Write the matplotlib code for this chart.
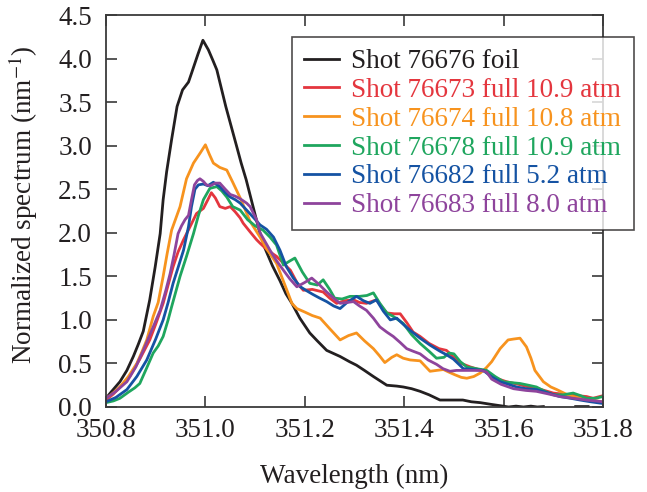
import numpy as np
import matplotlib
matplotlib.use("Agg")
import matplotlib.pyplot as plt

plt.rcParams['font.family'] = ['Liberation Serif', 'DejaVu Serif']
plt.rcParams['mathtext.fontset'] = 'stix'

# ---- data ----
foil_x = [350.80, 350.81, 350.828, 350.842, 350.855, 350.865, 350.875, 350.888, 350.899, 350.909,
          350.915, 350.922, 350.932, 350.943, 350.954, 350.966, 350.972, 350.985, 350.995, 351.006,
          351.015, 351.023, 351.032, 351.041, 351.052, 351.063, 351.072, 351.082, 351.095, 351.108,
          351.12, 351.135, 351.15, 351.162, 351.174, 351.19, 351.21, 351.225, 351.244, 351.271,
          351.29, 351.304, 351.32, 351.338, 351.365, 351.385, 351.398, 351.415, 351.432, 351.45,
          351.472, 351.50, 351.518, 351.535, 351.553, 351.575, 351.599, 351.61, 351.625, 351.64,
          351.655, 351.668, 351.68, 351.70, 351.745, 351.77]
foil_y = [0.10, 0.17, 0.29, 0.42, 0.58, 0.72, 0.87, 1.23, 1.61, 1.99,
          2.38, 2.70, 3.07, 3.45, 3.64, 3.73, 3.83, 4.05, 4.21, 4.10,
          3.98, 3.87, 3.66, 3.45, 3.22, 2.99, 2.80, 2.61, 2.32, 2.03,
          1.82, 1.62, 1.45, 1.30, 1.19, 1.02, 0.85, 0.76, 0.65, 0.58,
          0.52, 0.48, 0.42, 0.35, 0.25, 0.24, 0.23, 0.21, 0.18, 0.14,
          0.08, 0.08, 0.08, 0.06, 0.05, 0.03, 0.01, 0.0, 0.01, 0.0,
          0.01, 0.0, 0.005, np.nan, 0.005, 0.005]

s73_x = [350.80, 350.815, 350.83, 350.848, 350.868, 350.888, 350.90, 350.915, 350.925, 350.935,
         350.945, 350.956, 350.97, 350.982, 350.996, 351.005, 351.012, 351.02, 351.029, 351.04,
         351.05, 351.06, 351.07, 351.076, 351.09, 351.103, 351.11, 351.125, 351.143, 351.15,
         351.171, 351.185, 351.197, 351.215, 351.237, 351.25, 351.264, 351.28, 351.298, 351.31,
         351.324, 351.344, 351.355, 351.365, 351.38, 351.392, 351.405, 351.418, 351.432, 351.45,
         351.47, 351.485, 351.50, 351.515, 351.533, 351.55, 351.566, 351.585, 351.606, 351.63,
         351.65, 351.67, 351.70, 351.73, 351.767, 351.78, 351.80]
s73_y = [0.08, 0.15, 0.24, 0.35, 0.55, 0.77, 0.95, 1.19, 1.40, 1.61,
         1.78, 1.92, 2.08, 2.22, 2.28, 2.38, 2.46, 2.40, 2.30, 2.28,
         2.30, 2.24, 2.17, 2.11, 2.01, 1.92, 1.88, 1.80, 1.73, 1.69,
         1.57, 1.42, 1.34, 1.35, 1.32, 1.25, 1.19, 1.22, 1.23, 1.20,
         1.19, 1.23, 1.15, 1.08, 1.07, 1.07, 0.97, 0.86, 0.81, 0.73,
         0.67, 0.65, 0.57, 0.50, 0.46, 0.43, 0.41, 0.33, 0.29, 0.26,
         0.23, 0.21, 0.16, 0.14, 0.12, 0.10, 0.13]

s74_x = [350.80, 350.81, 350.828, 350.845, 350.862, 350.872, 350.882, 350.895, 350.905, 350.915,
         350.923, 350.932, 350.949, 350.962, 350.976, 350.99, 351.0, 351.008, 351.016, 351.029,
         351.043, 351.055, 351.07, 351.09, 351.11, 351.125, 351.143, 351.16, 351.174, 351.184,
         351.20, 351.215, 351.231, 351.25, 351.271, 351.288, 351.304, 351.32, 351.338, 351.35,
         351.361, 351.375, 351.385, 351.398, 351.412, 351.432, 351.452, 351.465, 351.479, 351.49,
         351.502, 351.515, 351.526, 351.54, 351.553, 351.565, 351.576, 351.593, 351.609, 351.62,
         351.633, 351.646, 351.655, 351.663, 351.68, 351.695, 351.707, 351.725, 351.74, 351.774,
         351.80]
s74_y = [0.10, 0.14, 0.23, 0.35, 0.50, 0.63, 0.77, 1.04, 1.20, 1.50,
         1.76, 2.03, 2.30, 2.62, 2.80, 2.92, 3.01, 2.90, 2.80, 2.75,
         2.72, 2.58, 2.40, 2.13, 1.95, 1.80, 1.65, 1.40, 1.19, 1.13,
         1.09, 1.05, 1.02, 0.90, 0.77, 0.82, 0.85, 0.76, 0.67, 0.59,
         0.51, 0.57, 0.60, 0.56, 0.54, 0.53, 0.41, 0.42, 0.43, 0.40,
         0.37, 0.34, 0.33, 0.35, 0.39, 0.45, 0.52, 0.67, 0.77, 0.78,
         0.79, 0.69, 0.56, 0.42, 0.29, 0.23, 0.20, 0.15, 0.12, 0.08,
         0.06]

s78_x = [350.80, 350.815, 350.828, 350.845, 350.858, 350.868, 350.882, 350.895, 350.905, 350.915,
         350.925, 350.932, 350.949, 350.962, 350.976, 350.986, 350.996, 351.009, 351.023, 351.033,
         351.043, 351.055, 351.07, 351.085, 351.10, 351.116, 351.13, 351.143, 351.157, 351.168,
         351.18, 351.195, 351.21, 351.225, 351.237, 351.25, 351.26, 351.275, 351.291, 351.31,
         351.325, 351.338, 351.351, 351.365, 351.378, 351.398, 351.415, 351.432, 351.45, 351.465,
         351.48, 351.49, 351.50, 351.513, 351.526, 351.545, 351.566, 351.583, 351.60, 351.615,
         351.633, 351.65, 351.666, 351.683, 351.70, 351.72, 351.74, 351.755, 351.767, 351.785,
         351.80]
s78_y = [0.05, 0.07, 0.10, 0.17, 0.22, 0.27, 0.45, 0.62, 0.70, 0.81,
         1.00, 1.15, 1.50, 1.73, 1.99, 2.20, 2.38, 2.51, 2.53, 2.48,
         2.41, 2.30, 2.26, 2.15, 2.08, 2.03, 1.95, 1.86, 1.63, 1.67,
         1.71, 1.55, 1.42, 1.40, 1.46, 1.35, 1.25, 1.24, 1.27, 1.27,
         1.28, 1.31, 1.19, 1.08, 1.04, 0.96, 0.83, 0.73, 0.64, 0.56,
         0.57, 0.62, 0.61, 0.52, 0.46, 0.44, 0.42, 0.35, 0.29, 0.28,
         0.27, 0.25, 0.23, 0.18, 0.14, 0.14, 0.16, 0.13, 0.10, 0.10,
         0.12]

s82_x = [350.80, 350.82, 350.842, 350.862, 350.882, 350.90, 350.915, 350.925, 350.935, 350.945,
         350.956, 350.966, 350.972, 350.979, 350.986, 350.996, 351.005, 351.016, 351.029, 351.04,
         351.05, 351.06, 351.07, 351.083, 351.096, 351.11, 351.123, 351.137, 351.15, 351.163,
         351.177, 351.191, 351.205, 351.217, 351.23, 351.244, 351.258, 351.271, 351.285, 351.304,
         351.318, 351.331, 351.344, 351.358, 351.372, 351.385, 351.398, 351.412, 351.432, 351.452,
         351.472, 351.485, 351.499, 351.51, 351.519, 351.54, 351.559, 351.575, 351.593, 351.61,
         351.626, 351.645, 351.666, 351.69, 351.713, 351.735, 351.754, 351.775, 351.80]
s82_y = [0.06, 0.11, 0.20, 0.35, 0.54, 0.78, 1.00, 1.20, 1.42, 1.60,
         1.80, 2.07, 2.30, 2.50, 2.55, 2.56, 2.54, 2.58, 2.53, 2.46,
         2.41, 2.38, 2.34, 2.26, 2.18, 2.09, 2.04, 1.95, 1.80, 1.61,
         1.48, 1.38, 1.33, 1.29, 1.25, 1.21, 1.16, 1.13, 1.20, 1.27,
         1.22, 1.19, 1.23, 1.10, 1.00, 1.02, 0.95, 0.88, 0.79, 0.71,
         0.64, 0.60, 0.55, 0.49, 0.44, 0.43, 0.42, 0.35, 0.29, 0.26,
         0.23, 0.21, 0.20, 0.16, 0.12, 0.10, 0.08, 0.06, 0.04]

s83_x = [350.80, 350.82, 350.842, 350.86, 350.875, 350.892, 350.909, 350.92, 350.929, 350.937,
         350.945, 350.952, 350.959, 350.966, 350.972, 350.978, 350.984, 350.989, 350.996, 351.002,
         351.01, 351.02, 351.029, 351.04, 351.05, 351.06, 351.07, 351.083, 351.09, 351.103,
         351.11, 351.12, 351.13, 351.143, 351.157, 351.17, 351.184, 351.20, 351.214, 351.23,
         351.244, 351.258, 351.271, 351.285, 351.298, 351.31, 351.324, 351.338, 351.351, 351.365,
         351.378, 351.392, 351.405, 351.418, 351.432, 351.448, 351.465, 351.478, 351.492, 351.505,
         351.519, 351.54, 351.555, 351.566, 351.576, 351.595, 351.62, 351.645, 351.666, 351.69,
         351.713, 351.74, 351.767, 351.80]
s83_y = [0.10, 0.18, 0.29, 0.46, 0.65, 0.88, 1.11, 1.33, 1.53, 1.75,
         1.99, 2.08, 2.15, 2.20, 2.38, 2.55, 2.60, 2.62, 2.59, 2.55,
         2.54, 2.57, 2.57, 2.50, 2.44, 2.42, 2.39, 2.34, 2.30, 2.15,
         2.00, 1.90, 1.80, 1.68, 1.57, 1.47, 1.38, 1.43, 1.48, 1.40,
         1.32, 1.25, 1.19, 1.20, 1.21, 1.16, 1.11, 1.02, 0.92, 0.86,
         0.81, 0.74, 0.67, 0.64, 0.61, 0.54, 0.49, 0.44, 0.41, 0.42,
         0.42, 0.42, 0.42, 0.40, 0.32, 0.26, 0.21, 0.19, 0.18, 0.15,
         0.12, 0.10, 0.08, 0.06]

labels = ["Shot 76676 foil", "Shot 76673 full 10.9 atm", "Shot 76674 full 10.8 atm",
          "Shot 76678 full 10.9 atm", "Shot 76682 full 5.2 atm", "Shot 76683 full 8.0 atm"]
colors = ["#231f20", "#e4363e", "#f7931e", "#1fa65e", "#1553a3", "#8e449c"]

series = [(foil_x, foil_y), (s73_x, s73_y), (s74_x, s74_y),
          (s78_x, s78_y), (s82_x, s82_y), (s83_x, s83_y)]

xticks = [350.8, 351.0, 351.2, 351.4, 351.6, 351.8]
yticks = [0.0, 0.5, 1.0, 1.5, 2.0, 2.5, 3.0, 3.5, 4.0, 4.5]

FS = 19.5

# ---- figure ----
fig = plt.figure(figsize=(6.47, 4.92), dpi=100)
ax = fig.add_axes([106/647, 1-407/492, 497/647, 392/492])

for (x, y), c, lab in zip(series, colors, labels):
    ax.plot(x, y, color=c, lw=2.0, label=lab, solid_joinstyle='round')

ax.set_xlim(350.8, 351.8)
ax.set_ylim(0, 4.5)
ax.set_xticks(xticks)
ax.set_xticklabels([f"{v:.1f}" for v in xticks])
ax.set_yticks(yticks)
ax.set_yticklabels([f"{v:.1f}" for v in yticks])

spine_c = '#3a3a3a'
for s in ax.spines.values():
    s.set_color(spine_c)
    s.set_linewidth(1.3)

ax.tick_params(direction='in', length=8, width=1.2, color=spine_c,
               top=True, right=True, labelsize=FS, labelcolor='#231f20')
ax.tick_params(axis='x', pad=8)
ax.tick_params(axis='y', pad=10)

ax.set_xlabel("Wavelength (nm)", fontsize=FS, color='#231f20')
ax.set_ylabel(r"Normalized spectrum (nm$^{-1}$)", fontsize=FS, color='#231f20')
ax.xaxis.set_label_coords(0.5, -0.145)
ax.yaxis.set_label_coords(-0.133, 0.515)

leg = ax.legend(loc='upper left', bbox_to_anchor=(0.374, 0.944), borderaxespad=0,
                fontsize=FS, frameon=True, fancybox=False, handlelength=1.3,
                handletextpad=0.45, labelspacing=0.14, borderpad=0.45)
leg.get_frame().set_edgecolor('#231f20')
leg.get_frame().set_linewidth(1.2)
for txt, c in zip(leg.get_texts(), colors):
    txt.set_color(c)

fig.savefig("out.png", dpi=100)
